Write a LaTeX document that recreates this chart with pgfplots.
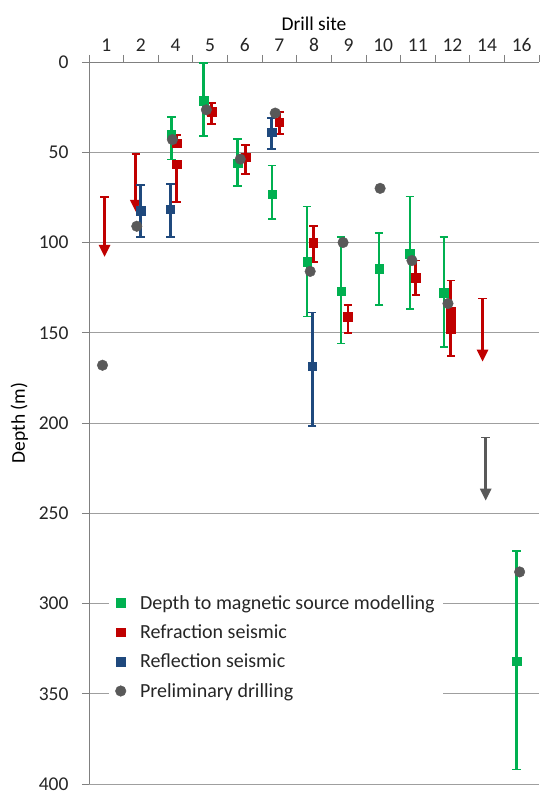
\documentclass[border=0pt]{standalone}
\usepackage{fontspec}
\setmainfont{Carlito}
\usepackage{pgfplots}
\pgfplotsset{compat=1.18}
\usetikzlibrary{arrows.meta}
\definecolor{mgreen}{HTML}{00B050}
\definecolor{mred}{HTML}{C00000}
\definecolor{mblue}{HTML}{1F497D}
\definecolor{mgray}{HTML}{595959}
\definecolor{txt}{HTML}{262626}
\pgfplotsset{
  ebar/.style={
    only marks, mark=square*, mark size=4.3pt,
    mark options={rounded corners=1.5pt},
    error bars/.cd, y dir=both, y explicit,
    error bar style={line width=2.6pt, solid},
    error mark options={rotate=90, mark size=4.2pt, line width=1.8pt},
  },
  limarrow/.style={sharp plot, no marks, line width=2.6pt,
    -{Triangle[width=11pt,length=12pt]}, forget plot},
  limcap/.style={only marks, mark=|, mark size=4.2pt,
    mark options={rotate=90, line width=1.8pt}, forget plot},
}
\begin{document}
\begin{tikzpicture}
\begin{axis}[
    scale only axis,
    width=450pt, height=722pt,
    y dir=reverse,
    xmin=0.5, xmax=13.5,
    ymin=0, ymax=400,
    axis x line*=top,
    axis y line*=left,
    axis line style={gray, line width=0.8pt},
    xtick={1,...,13},
    xticklabels={1,2,4,5,6,7,8,9,10,11,12,14,16},
    minor xtick={0.5,1.5,...,13.5},
    major x tick style={draw=none},
    minor tick length=7pt,
    major tick length=7pt,
    tick align=outside,
    tick style={gray, line width=0.8pt},
    ytick distance=50,
    ymajorgrids,
    grid style={gray!75, line width=0.8pt},
    /pgf/number format/assume math mode=true,
    tick label style={font=\fontsize{19.5}{22}\selectfont, text=txt},
    yticklabel style={xshift=-10pt},
    xlabel={Drill site},
    ylabel={Depth (m)},
    ylabel style={yshift=4pt},
    label style={font=\fontsize{19.5}{22}\selectfont, text=black},
    legend style={at={(0.045,0.27)}, anchor=north west, draw=none, fill=white,
                  font=\fontsize{20}{22}\selectfont, text=txt, row sep=10pt,
                  inner xsep=6pt, inner ysep=4pt,
                  /tikz/every odd column/.append style={column sep=12pt}},
    legend cell align=left,
  ]
  % limits shown as arrows (deeper than)
  \addplot[mred, limarrow] coordinates {(0.95,74.6) (0.95,108)};
  \addplot[mred, limarrow] coordinates {(1.85,51) (1.85,83)};
  \addplot[mred, limarrow] coordinates {(11.87,131) (11.87,166)};
  \addplot[mgray, limarrow] coordinates {(11.96,208) (11.96,243)};
  \addplot[mred, limcap] coordinates {(0.95,74.6) (1.85,51) (11.87,131)};
  \addplot[mgray, limcap] coordinates {(11.96,208)};

  % Depth to magnetic source modelling
  \addplot[mgreen, ebar] coordinates {
    (2.88,40) += (0,14) -= (0,9.5)
    (3.81,21.4) += (0,19.4) -= (0,20.7)
    (4.79,56) += (0,12.8) -= (0,13.4)
    (5.79,73.2) += (0,13.6) -= (0,15.9)
    (6.80,110.6) += (0,30.4) -= (0,30.6)
    (7.78,127) += (0,29) -= (0,30.2)
    (8.88,114.5) += (0,20) -= (0,19.8)
    (9.77,106.3) += (0,30.7) -= (0,31.8)
    (10.75,127.8) += (0,30.2) -= (0,31)
    (12.85,332) += (0,60) -= (0,61)
  };
  \addlegendentry{Depth to magnetic source modelling}

  % Refraction seismic
  \addplot[mred, ebar] coordinates {
    (3.03,45) += (0,0) -= (0,4.6)
    (3.03,56.6) += (0,21) -= (0,0)
    (4.04,27.6) += (0,6.7) -= (0,4.7)
    (5.02,52.7) += (0,9.3) -= (0,6.5)
    (6.00,33.3) += (0,6.5) -= (0,5.8)
    (6.98,100) += (0,10.6) -= (0,9)
    (7.98,141) += (0,9) -= (0,6.5)
    (9.94,119.5) += (0,9.5) -= (0,9.5)
    (10.95,138) += (0,0) -= (0,17)
    (10.95,143) += (0,0) -= (0,0)
    (10.95,148) += (0,15) -= (0,0)
  };
  \addlegendentry{Refraction seismic}

  % Reflection seismic
  \addplot[mblue, ebar] coordinates {
    (1.99,82.5) += (0,14.5) -= (0,14.5)
    (2.85,81.5) += (0,15.5) -= (0,14)
    (5.77,38.9) += (0,9.1) -= (0,7.9)
    (6.95,168.5) += (0,33.1) -= (0,29.7)
  };
  \addlegendentry{Reflection seismic}

  % Preliminary drilling
  \addplot[mgray, only marks, mark=*, mark size=5.3pt] coordinates {
    (0.89,168) (1.88,91) (2.91,43) (3.89,26.5) (4.87,53.8) (5.88,28.3)
    (6.89,116) (7.84,100) (8.91,70) (9.83,110) (10.87,133.8) (12.94,282.5)
  };
  \addlegendentry{Preliminary drilling}
\end{axis}
\path ([yshift=62pt]current axis.north) ([xshift=-89pt]current axis.west)
      ([yshift=-10pt]current axis.south);
\pgfresetboundingbox
\path ([xshift=-89pt,yshift=62pt]current axis.north west)
      ([yshift=-10pt]current axis.south east);
\end{tikzpicture}
\end{document}
